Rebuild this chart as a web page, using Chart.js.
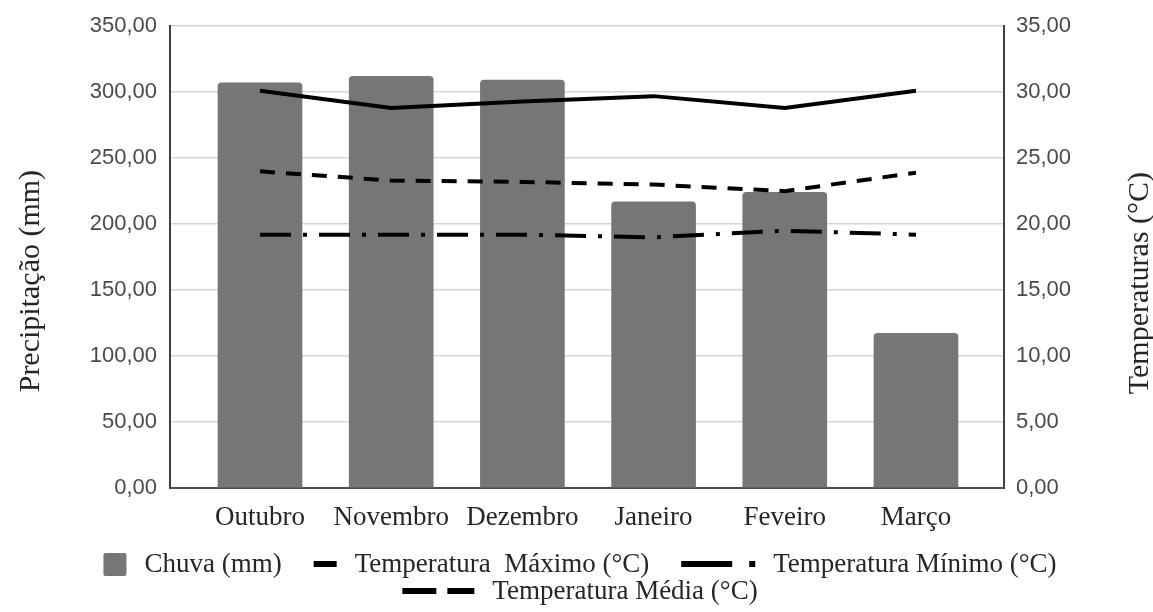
<!DOCTYPE html>
<html>
<head>
<meta charset="utf-8">
<title>Precipitação e temperaturas</title>
<script src="https://cdn.jsdelivr.net/npm/chart.js@4.4.0/dist/chart.umd.min.js"></script>
<style>
  html, body { margin: 0; padding: 0; background: #fff; }
  #wrap { width: 1153px; height: 612px; }
</style>
</head>
<body>
<div id="wrap"><canvas id="climaChart" width="1153" height="612"></canvas></div>
<script>
// --- data ---
const months = ['Outubro', 'Novembro', 'Dezembro', 'Janeiro', 'Feveiro', 'Março'];
const chuva = [307.0, 312.1, 309.1, 216.9, 224.0, 117.2];      // mm, left axis
const tempMax = [30.1, 28.8, 29.3, 29.7, 28.8, 30.1];          // °C, right axis
const tempMin = [19.2, 19.2, 19.2, 19.0, 19.5, 19.2];
const tempMedia = [24.0, 23.3, 23.2, 23.0, 22.5, 23.9];

const chuvaTicks = { min: 0, max: 350, step: 50 };
const tempTicks = { min: 0, max: 35, step: 5 };

const BAR_GREY = '#767676';
const SERIF = '"Liberation Serif", "Times New Roman", serif';
const SANS = '"Liberation Sans", Arial, sans-serif';

const toXY = arr => arr.map((v, i) => ({ x: i, y: v }));
const fmt = v => Number(v).toFixed(2).replace('.', ',');

// legend symbol per dataset (drawn by the plugin below)
const legendSymbols = [
    { type: 'box', width: 23 },
    { type: 'line', width: 23, dash: [] },
    { type: 'line', width: 74, dash: [51, 17, 6, 200] },
    { type: 'line', width: 72, dash: [34, 11, 27, 200] }
];

// --- axis titles and legend, Excel style ---
const decorPlugin = {
    id: 'decor',
    afterDraw(chart) {
        const ctx = chart.ctx;
        const area = chart.chartArea;
        const midY = (area.top + area.bottom) / 2 + 24;

        ctx.save();
        ctx.fillStyle = '#262626';
        ctx.font = '30px ' + SERIF;
        ctx.textAlign = 'center';
        ctx.textBaseline = 'middle';
        ctx.translate(31, midY);
        ctx.rotate(-Math.PI / 2);
        ctx.fillText('Precipitação (mm)', 0, 0);
        ctx.restore();

        ctx.save();
        ctx.fillStyle = '#262626';
        ctx.font = '30px ' + SERIF;
        ctx.textAlign = 'center';
        ctx.textBaseline = 'middle';
        ctx.translate(1140, midY + 2);
        ctx.rotate(-Math.PI / 2);
        ctx.fillText('Temperaturas (°C)', 0, 0);
        ctx.restore();

        // legend: flow items into rows, centred
        ctx.save();
        ctx.font = '27px ' + SERIF;
        const items = chart.data.datasets.map((ds, i) => {
            const sym = legendSymbols[i];
            const tw = ctx.measureText(ds.label).width;
            return { ds, sym, tw, w: sym.width + 18 + tw };
        });
        const gap = 32;
        const maxW = 1000;
        const rows = [[]];
        let rowW = 0;
        items.forEach(it => {
            const add = (rows[rows.length - 1].length ? gap : 0) + it.w;
            if (rowW + add > maxW) { rows.push([it]); rowW = it.w; }
            else { rows[rows.length - 1].push(it); rowW += add; }
        });
        const centerX = 580;
        const rowY = [564, 591];
        rows.forEach((row, r) => {
            const total = row.reduce((s, it) => s + it.w, 0) + gap * (row.length - 1);
            let x = centerX - total / 2;
            const y = rowY[r];
            row.forEach(it => {
                if (it.sym.type === 'box') {
                    ctx.fillStyle = BAR_GREY;
                    ctx.beginPath();
                    ctx.roundRect(x, y - 11, it.sym.width, 23, 2);
                    ctx.fill();
                } else {
                    ctx.strokeStyle = '#000';
                    ctx.lineWidth = 6;
                    ctx.lineCap = 'butt';
                    ctx.setLineDash(it.sym.dash);
                    ctx.beginPath();
                    ctx.moveTo(x, y);
                    ctx.lineTo(x + it.sym.width, y);
                    ctx.stroke();
                    ctx.setLineDash([]);
                }
                ctx.fillStyle = '#262626';
                ctx.textAlign = 'left';
                ctx.textBaseline = 'middle';
                ctx.fillText(it.ds.label, x + it.sym.width + 18, y + 1);
                x += it.w + gap;
            });
        });
        ctx.restore();
    }
};

new Chart(document.getElementById('climaChart'), {
    type: 'bar',
    data: {
        datasets: [
            {
                type: 'bar',
                label: 'Chuva (mm)',
                data: toXY(chuva),
                yAxisID: 'y',
                backgroundColor: BAR_GREY,
                barThickness: 84,
                borderRadius: { topLeft: 4, topRight: 4, bottomLeft: 0, bottomRight: 0 },
                borderSkipped: 'start',
                order: 1
            },
            {
                type: 'line',
                label: 'Temperatura  Máximo (°C)',
                data: toXY(tempMax),
                yAxisID: 'y1',
                borderColor: '#000',
                borderWidth: 4,
                pointRadius: 0,
                tension: 0,
                order: 0
            },
            {
                type: 'line',
                label: 'Temperatura Mínimo (°C)',
                data: toXY(tempMin),
                yAxisID: 'y1',
                borderColor: '#000',
                borderWidth: 4,
                borderDash: [31, 12, 4, 12],
                borderCapStyle: 'butt',
                pointRadius: 0,
                tension: 0,
                order: 0
            },
            {
                type: 'line',
                label: 'Temperatura Média (°C)',
                data: toXY(tempMedia),
                yAxisID: 'y1',
                borderColor: '#000',
                borderWidth: 4,
                borderDash: [15, 11],
                borderCapStyle: 'butt',
                pointRadius: 0,
                tension: 0,
                order: 0
            }
        ]
    },
    options: {
        responsive: false,
        animation: false,
        layout: { padding: { top: 26, left: 0, right: 0, bottom: 0 } },
        plugins: {
            legend: { display: false },
            tooltip: { enabled: false }
        },
        scales: {
            x: {
                type: 'linear',
                offset: false,
                min: -0.686,
                max: 5.671,
                grid: { display: false, drawTicks: false },
                border: { display: true, color: '#4d4d4d', width: 2 },
                afterBuildTicks: scale => { scale.ticks = months.map((m, i) => ({ value: i })); },
                afterFit: scale => { scale.height = 124; },
                ticks: {
                    autoSkip: false,
                    maxRotation: 0,
                    padding: 14,
                    color: '#262626',
                    font: { family: SERIF, size: 27 },
                    callback: v => months[v]
                }
            },
            y: {
                position: 'left',
                min: chuvaTicks.min,
                max: chuvaTicks.max,
                grid: { color: '#d6d6d6', lineWidth: 1.5, drawTicks: false },
                border: { display: true, color: '#404040', width: 2 },
                afterFit: scale => { scale.width = 170; },
                ticks: {
                    stepSize: chuvaTicks.step,
                    padding: 13,
                    color: '#4a4a4a',
                    font: { family: SANS, size: 22 },
                    callback: fmt
                }
            },
            y1: {
                position: 'right',
                min: tempTicks.min,
                max: tempTicks.max,
                grid: { display: false, drawTicks: false },
                border: { display: true, color: '#404040', width: 2 },
                afterFit: scale => { scale.width = 149; },
                ticks: {
                    stepSize: tempTicks.step,
                    padding: 12,
                    color: '#4a4a4a',
                    font: { family: SANS, size: 22 },
                    callback: fmt
                }
            }
        }
    },
    plugins: [decorPlugin]
});
</script>
</body>
</html>
